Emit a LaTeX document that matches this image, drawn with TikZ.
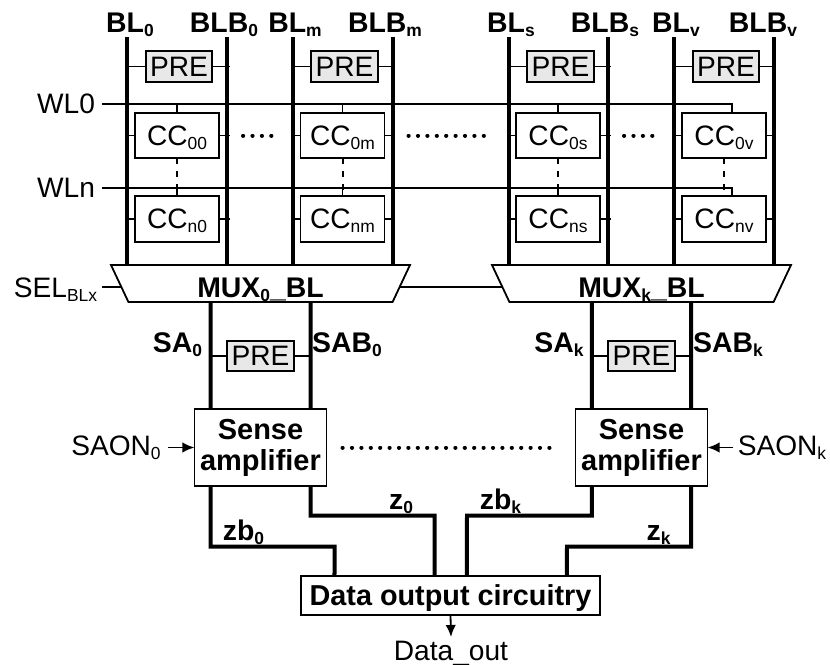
\documentclass[tikz,border=0pt]{standalone}
\usepackage{fontspec}
\setmainfont{Liberation Sans}
\usetikzlibrary{shapes.geometric, arrows.meta}

\newcommand{\lowidx}[1]{\raisebox{-0.3ex}{\fontsize{12.4}{12.4}\selectfont #1}}
\definecolor{pregray}{HTML}{E8E8E8}

\tikzset{
  lbl/.style={font=\fontsize{20}{22}\selectfont, anchor=base, inner sep=0pt, outer sep=0pt},
  boldlbl/.style={font=\fontsize{20.2}{22}\selectfont\bfseries, anchor=base, inner sep=0pt, outer sep=0pt},
  blk/.style={rectangle, draw, line width=0.45mm, inner sep=0pt, outer sep=0pt, font=\fontsize{20}{22}\selectfont, text height=5mm, text depth=0.25mm},
  cellblk/.style={blk, minimum width=21mm, minimum height=11.4mm},
  preblk/.style={blk, fill=pregray, minimum width=16.6mm, minimum height=7.6mm},
  muxblk/.style={trapezium, shape border rotate=180, trapezium stretches body=true, draw, fill=white, line width=0.45mm, trapezium angle=59, inner sep=0pt, outer sep=0pt, minimum width=74.75mm, minimum height=9.25mm, font=\fontsize{20.2}{22}\selectfont\bfseries, text height=7mm, text depth=0.25mm},
  senseblk/.style={rectangle, draw, line width=0.45mm, inner sep=0pt, outer sep=0pt, minimum width=33mm, minimum height=19.25mm, align=center, font=\fontsize{20.6}{22}\selectfont\bfseries},
  bus/.style={line width=1mm},
  thinw/.style={line width=0.45mm},
  arrw/.style={thinw, -{Latex[length=3mm, width=2.6mm]}},
  dashw/.style={line width=0.5mm, dash pattern=on 1.5mm off 1.75mm},
  dotrow/.style={line width=1mm, line cap=round, dash pattern=on 0.05mm off 2.3mm}
}

\begin{document}
\begin{tikzpicture}[x=0.25mm, y=-0.25mm]
\useasboundingbox (0,0) rectangle (830,665);

\node[muxblk] (mux0) at (260.5,283.5) {MUX\lowidx{0}\_BL};
\node[muxblk] (muxk) at (641.5,283.5) {MUX\lowidx{k}\_BL};

\coordinate (bl0) at (127,37);
\coordinate (blb0) at (227,37);
\coordinate (blm) at (293,37);
\coordinate (blbm) at (393,37);
\coordinate (bls) at (509,37);
\coordinate (blbs) at (608,37);
\coordinate (blv) at (674,37);
\coordinate (blbv) at (774,37);
\draw[bus] (bl0) -- (bl0 |- mux0.north);
\draw[bus] (blb0) -- (blb0 |- mux0.north);
\draw[bus] (blm) -- (blm |- mux0.north);
\draw[bus] (blbm) -- (blbm |- mux0.north);
\draw[bus] (bls) -- (bls |- muxk.north);
\draw[bus] (blbs) -- (blbs |- muxk.north);
\draw[bus] (blv) -- (blv |- muxk.north);
\draw[bus] (blbv) -- (blbv |- muxk.north);

\node[boldlbl] (tbl0) at (130,32) {BL\lowidx{0}};
\node[boldlbl] (tblb0) at (224,32) {BLB\lowidx{0}};
\node[boldlbl] (tblm) at (295,32) {BL\lowidx{m}};
\node[boldlbl] (tblbm) at (385,32) {BLB\lowidx{m}};
\node[boldlbl] (tbls) at (511,32) {BL\lowidx{s}};
\node[boldlbl] (tblbs) at (605,32) {BLB\lowidx{s}};
\node[boldlbl] (tblv) at (676,32) {BL\lowidx{v}};
\node[boldlbl] (tblbv) at (763,32) {BLB\lowidx{v}};

\node[preblk] (pre0) at (179,66.5) {PRE};
\node[preblk] (prem) at (344.5,66.5) {PRE};
\node[preblk] (pres) at (560.5,66.5) {PRE};
\node[preblk] (prev) at (726,66.5) {PRE};
\draw[thinw] (bl0 |- pre0) -- (pre0.west);
\draw[thinw] (pre0.east) -- ([xshift=0.75mm]blb0 |- pre0);
\draw[thinw] (blm |- prem) -- (prem.west);
\draw[thinw] (prem.east) -- (blbm |- prem);
\draw[thinw] (bls |- pres) -- (pres.west);
\draw[thinw] (pres.east) -- ([xshift=0.75mm]blbs |- pres);
\draw[thinw] (blv |- prev) -- (prev.west);
\draw[thinw] (prev.east) -- (blbv |- prev);

\node[cellblk] (cc00) at (177,135.5) {CC\lowidx{00}};
\node[cellblk] (cc0m) at (342.5,135.5) {CC\lowidx{0m}};
\node[cellblk] (cc0s) at (558,135.5) {CC\lowidx{0s}};
\node[cellblk] (cc0v) at (724,135.5) {CC\lowidx{0v}};
\node[cellblk] (ccn0) at (177,219) {CC\lowidx{n0}};
\node[cellblk] (ccnm) at (342.5,219) {CC\lowidx{nm}};
\node[cellblk] (ccns) at (558,219) {CC\lowidx{ns}};
\node[cellblk] (ccnv) at (724,219) {CC\lowidx{nv}};

\draw[thinw] (bl0 |- cc00) -- (cc00.west);
\draw[thinw] (cc00.east) -- ([xshift=0.75mm]blb0 |- cc00);
\draw[thinw] (blm |- cc0m) -- (cc0m.west);
\draw[thinw] (cc0m.east) -- (blbm |- cc0m);
\draw[thinw] (bls |- cc0s) -- (cc0s.west);
\draw[thinw] (cc0s.east) -- ([xshift=0.75mm]blbs |- cc0s);
\draw[thinw] (blv |- cc0v) -- (cc0v.west);
\draw[thinw] (cc0v.east) -- (blbv |- cc0v);
\draw[thinw] (bl0 |- ccn0) -- (ccn0.west);
\draw[thinw] (ccn0.east) -- ([xshift=0.75mm]blb0 |- ccn0);
\draw[thinw] (blm |- ccnm) -- (ccnm.west);
\draw[thinw] (ccnm.east) -- (blbm |- ccnm);
\draw[thinw] (bls |- ccns) -- (ccns.west);
\draw[thinw] (ccns.east) -- ([xshift=0.75mm]blbs |- ccns);
\draw[thinw] (blv |- ccnv) -- (ccnv.west);
\draw[thinw] (ccnv.east) -- (blbv |- ccnv);

\node[lbl] (twl0) at (66,113) {WL0};
\node[lbl] (twln) at (66,197) {WLn};
\coordinate (wl0) at (102,104);
\coordinate (wln) at (102,188);
\draw[thinw] (wl0) -| ([xshift=2mm]cc0v.north);
\draw[thinw] (wln) -| ([xshift=2mm]ccnv.north);
\draw[thinw] (cc00.north |- wl0) -- (cc00.north);
\draw[thinw] (cc0m.north |- wl0) -- (cc0m.north);
\draw[thinw] (cc0s.north |- wl0) -- (cc0s.north);
\draw[thinw] (ccn0.north |- wln) -- (ccn0.north);
\draw[thinw] (ccnm.north |- wln) -- (ccnm.north);
\draw[thinw] (ccns.north |- wln) -- (ccns.north);

\draw[dashw] (cc00.south) -- (ccn0.north);
\draw[dashw] (cc0m.south) -- (ccnm.north);
\draw[dashw] (cc0s.south) -- (ccns.north);
\draw[dashw] (cc0v.south) -- (ccnv.north);

\draw[dotrow] ([xshift=6mm]cc00.east) -- ([xshift=13.5mm]cc00.east);
\draw[dotrow] ([xshift=6mm]cc0m.east) -- ([xshift=26.5mm]cc0m.east);
\draw[dotrow] ([xshift=6mm]cc0s.east) -- ([xshift=13.5mm]cc0s.east);

\node[lbl] (tsel) at (55.5,297) {SEL\lowidx{BLx}};
\coordinate (sel) at (102,287);
\coordinate (mux0l) at (121,287);
\coordinate (mux0r) at (400,287);
\coordinate (muxkl) at (502,287);
\draw[thinw] (sel) -- (mux0l);
\draw[thinw] (mux0r) -- (muxkl);

\node[preblk] (presa0) at (260.5,356) {PRE};
\node[preblk] (presak) at (641.5,356) {PRE};
\node[senseblk] (sense0) at (260.5,447.5) {Sense\\amplifier};
\node[senseblk] (sensek) at (641.5,447.5) {Sense\\amplifier};

\draw[bus] ([xshift=-12.5mm]mux0.south) -- ([xshift=-12.5mm]sense0.north);
\draw[bus] ([xshift=12.5mm]mux0.south) -- ([xshift=12.5mm]sense0.north);
\draw[bus] ([xshift=-12.4mm]muxk.south) -- ([xshift=-12.4mm]sensek.north);
\draw[bus] ([xshift=12.4mm]muxk.south) -- ([xshift=12.4mm]sensek.north);
\draw[thinw] ([xshift=-12.5mm]sense0.north |- presa0) -- (presa0.west);
\draw[thinw] (presa0.east) -- ([xshift=12.5mm]sense0.north |- presa0);
\draw[thinw] ([xshift=-12.4mm]sensek.north |- presak) -- (presak.west);
\draw[thinw] (presak.east) -- ([xshift=12.4mm]sensek.north |- presak);

\node[boldlbl] (tsa0) at (177.5,352) {SA\lowidx{0}};
\node[boldlbl] (tsab0) at (347,352) {SAB\lowidx{0}};
\node[boldlbl] (tsak) at (559,352) {SA\lowidx{k}};
\node[boldlbl] (tsabk) at (728,352) {SAB\lowidx{k}};

\draw[dotrow] ([xshift=4mm]sense0.east) -- ([xshift=-5.5mm]sensek.west);

\node[lbl] (tsaon0) at (116,455) {SAON\lowidx{0}};
\node[lbl] (tsaonk) at (782,455) {SAON\lowidx{k}};
\coordinate (saon0) at (168,447.5);
\coordinate (saonk) at (733,447.5);
\draw[arrw] (saon0) -- (sense0.west);
\draw[arrw] (saonk) -- (sensek.east);

\node[blk, font=\fontsize{20.5}{22}\selectfont\bfseries, minimum width=74.75mm, minimum height=9.75mm] (dout) at (450.5,595.5) {Data output circuitry};

\coordinate (zb0r) at (334.5,546.7);
\coordinate (z0r) at (434.5,515.7);
\coordinate (zbkl) at (467,515.7);
\coordinate (zkl) at (567,546.7);
\draw[bus] ([xshift=-12.5mm]sense0.south) |- (zb0r) -- ([xshift=-29mm]dout.north);
\draw[bus] ([xshift=12.5mm]sense0.south) |- (z0r) -- ([xshift=-4mm]dout.north);
\draw[bus] ([xshift=-12.4mm]sensek.south) |- (zbkl) -- ([xshift=4.1mm]dout.north);
\draw[bus] ([xshift=12.4mm]sensek.south) |- (zkl) -- ([xshift=29.1mm]dout.north);

\node[boldlbl] (tzb0) at (243.5,540) {zb\lowidx{0}};
\node[boldlbl] (tz0) at (401,509) {z\lowidx{0}};
\node[boldlbl] (tzbk) at (500.5,509) {zb\lowidx{k}};
\node[boldlbl] (tzk) at (658.5,540) {z\lowidx{k}};

\node[lbl] (tout) at (451,660) {Data\_out};
\coordinate (outend) at (451,637);
\draw[arrw] (dout.south) -- (outend);

\end{tikzpicture}
\end{document}
